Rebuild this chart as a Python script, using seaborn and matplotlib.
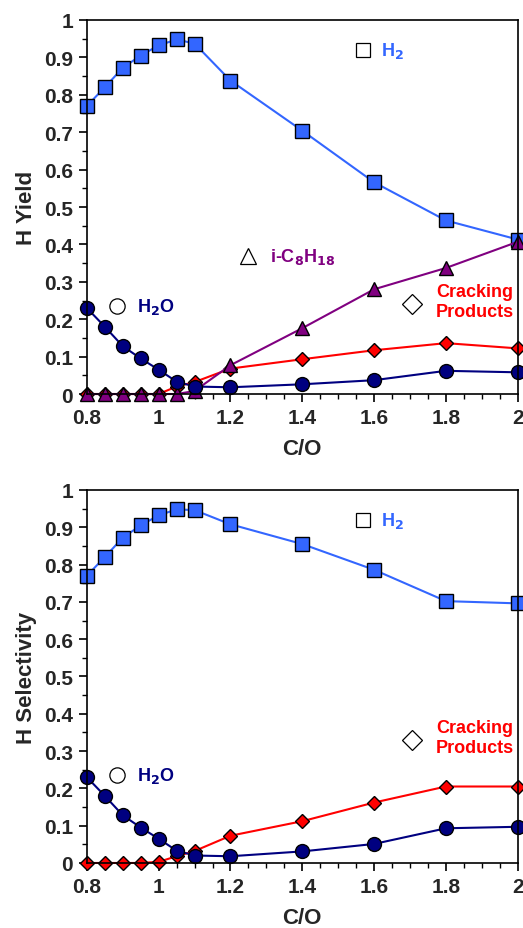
import pandas as pd
import seaborn as sns
import matplotlib.pyplot as plt
from matplotlib.ticker import MultipleLocator

# C/O ratios
co = [0.8, 0.85, 0.9, 0.95, 1.0, 1.05, 1.1, 1.2, 1.4, 1.6, 1.8, 2.0]

# top panel: H yield
yield_h2 = [0.770, 0.820, 0.872, 0.905, 0.932, 0.948, 0.937, 0.838, 0.704, 0.566, 0.464, 0.413]
yield_h2o = [0.230, 0.180, 0.128, 0.095, 0.065, 0.033, 0.020, 0.018, 0.026, 0.037, 0.062, 0.058]
yield_ic8 = [0.0, 0.0, 0.0, 0.0, 0.0, 0.0, 0.008, 0.077, 0.176, 0.280, 0.337, 0.407]
yield_crack = [0.0, 0.0, 0.0, 0.0, 0.0, 0.020, 0.032, 0.068, 0.093, 0.117, 0.136, 0.122]

# bottom panel: H selectivity
sel_h2 = [0.770, 0.820, 0.872, 0.905, 0.932, 0.948, 0.946, 0.908, 0.855, 0.786, 0.702, 0.696]
sel_h2o = [0.230, 0.180, 0.128, 0.095, 0.065, 0.033, 0.020, 0.018, 0.031, 0.051, 0.093, 0.097]
sel_crack = [0.0, 0.0, 0.0, 0.0, 0.003, 0.018, 0.032, 0.073, 0.112, 0.162, 0.205, 0.205]

x_ticks = [0.8, 1.0, 1.2, 1.4, 1.6, 1.8, 2.0]
x_labels = ["0.8", "1", "1.2", "1.4", "1.6", "1.8", "2"]
y_ticks = [0, 0.1, 0.2, 0.3, 0.4, 0.5, 0.6, 0.7, 0.8, 0.9, 1.0]
y_labels = ["0", "0.1", "0.2", "0.3", "0.4", "0.5", "0.6", "0.7", "0.8", "0.9", "1"]

BLUE = "#3366ff"
NAVY = "#000080"
PURPLE = "#800080"
RED = "#ff0000"

sns.set_theme(style="ticks")
plt.rcParams["font.family"] = ["Liberation Sans", "DejaVu Sans"]
plt.rcParams["font.weight"] = "bold"

fig = plt.figure(figsize=(5.23, 9.29), dpi=100)
ax1 = fig.add_axes([0.166, 0.5748, 0.824, 0.4026])
ax2 = fig.add_axes([0.166, 0.0700, 0.824, 0.4015])


def draw(ax, y, color, marker, ms):
    df = pd.DataFrame({"co": co, "val": y})
    sns.lineplot(data=df, x="co", y="val", ax=ax, color=color, lw=1.5,
                 marker=marker, markersize=ms, markerfacecolor=color,
                 markeredgecolor="black", markeredgewidth=1.0, clip_on=False)


def tag(ax, x, y, marker, ms, tx, ty, text, color, ha="left"):
    ax.plot([x], [y], marker=marker, markersize=ms, markerfacecolor="white",
            markeredgecolor="black", markeredgewidth=0.9, ls="none")
    ax.text(tx, ty, text, color=color, fontsize=13, fontweight="bold",
            ha=ha, va="center", linespacing=1.2)


def style(ax, ylabel):
    ax.set_xlim(0.8, 2.0)
    ax.set_ylim(0, 1)
    ax.set_xticks(x_ticks)
    ax.set_xticklabels(x_labels)
    ax.set_yticks(y_ticks)
    ax.set_yticklabels(y_labels)
    ax.xaxis.set_minor_locator(MultipleLocator(0.05))
    ax.yaxis.set_minor_locator(MultipleLocator(0.05))
    ax.tick_params(which="major", direction="out", length=6, width=1.2,
                   labelsize=15, pad=4, color="black")
    ax.tick_params(which="minor", direction="out", length=3.5, width=1.0,
                   color="black")
    for lab in ax.get_xticklabels() + ax.get_yticklabels():
        lab.set_fontweight("bold")
    for sp in ax.spines.values():
        sp.set_visible(True)
        sp.set_color("black")
        sp.set_linewidth(1.2)
    ax.set_xlabel("C/O", fontsize=16, fontweight="bold", labelpad=8)
    ax.set_ylabel(ylabel, fontsize=16, fontweight="bold", labelpad=5)


# top panel
draw(ax1, yield_h2, BLUE, "s", 10)
draw(ax1, yield_crack, RED, "D", 7.5)
draw(ax1, yield_ic8, PURPLE, "^", 10)
draw(ax1, yield_h2o, NAVY, "o", 10)
tag(ax1, 1.57, 0.92, "s", 10, 1.62, 0.92, "H$_\\mathbf{2}$", BLUE)
tag(ax1, 1.25, 0.37, "^", 11, 1.31, 0.37, "i-C$_\\mathbf{8}$H$_\\mathbf{18}$", PURPLE)
tag(ax1, 0.885, 0.235, "o", 11, 0.94, 0.235, "H$_\\mathbf{2}$O", NAVY)
tag(ax1, 1.705, 0.24, "D", 10, 1.88, 0.247, "Cracking\nProducts", RED, ha="center")
style(ax1, "H Yield")

# bottom panel
draw(ax2, sel_h2, BLUE, "s", 10)
draw(ax2, sel_crack, RED, "D", 7.5)
draw(ax2, sel_h2o, NAVY, "o", 10)
tag(ax2, 1.57, 0.92, "s", 10, 1.62, 0.92, "H$_\\mathbf{2}$", BLUE)
tag(ax2, 0.885, 0.235, "o", 11, 0.94, 0.235, "H$_\\mathbf{2}$O", NAVY)
tag(ax2, 1.705, 0.33, "D", 10, 1.88, 0.337, "Cracking\nProducts", RED, ha="center")
style(ax2, "H Selectivity")

fig.savefig("out.png", dpi=100)
